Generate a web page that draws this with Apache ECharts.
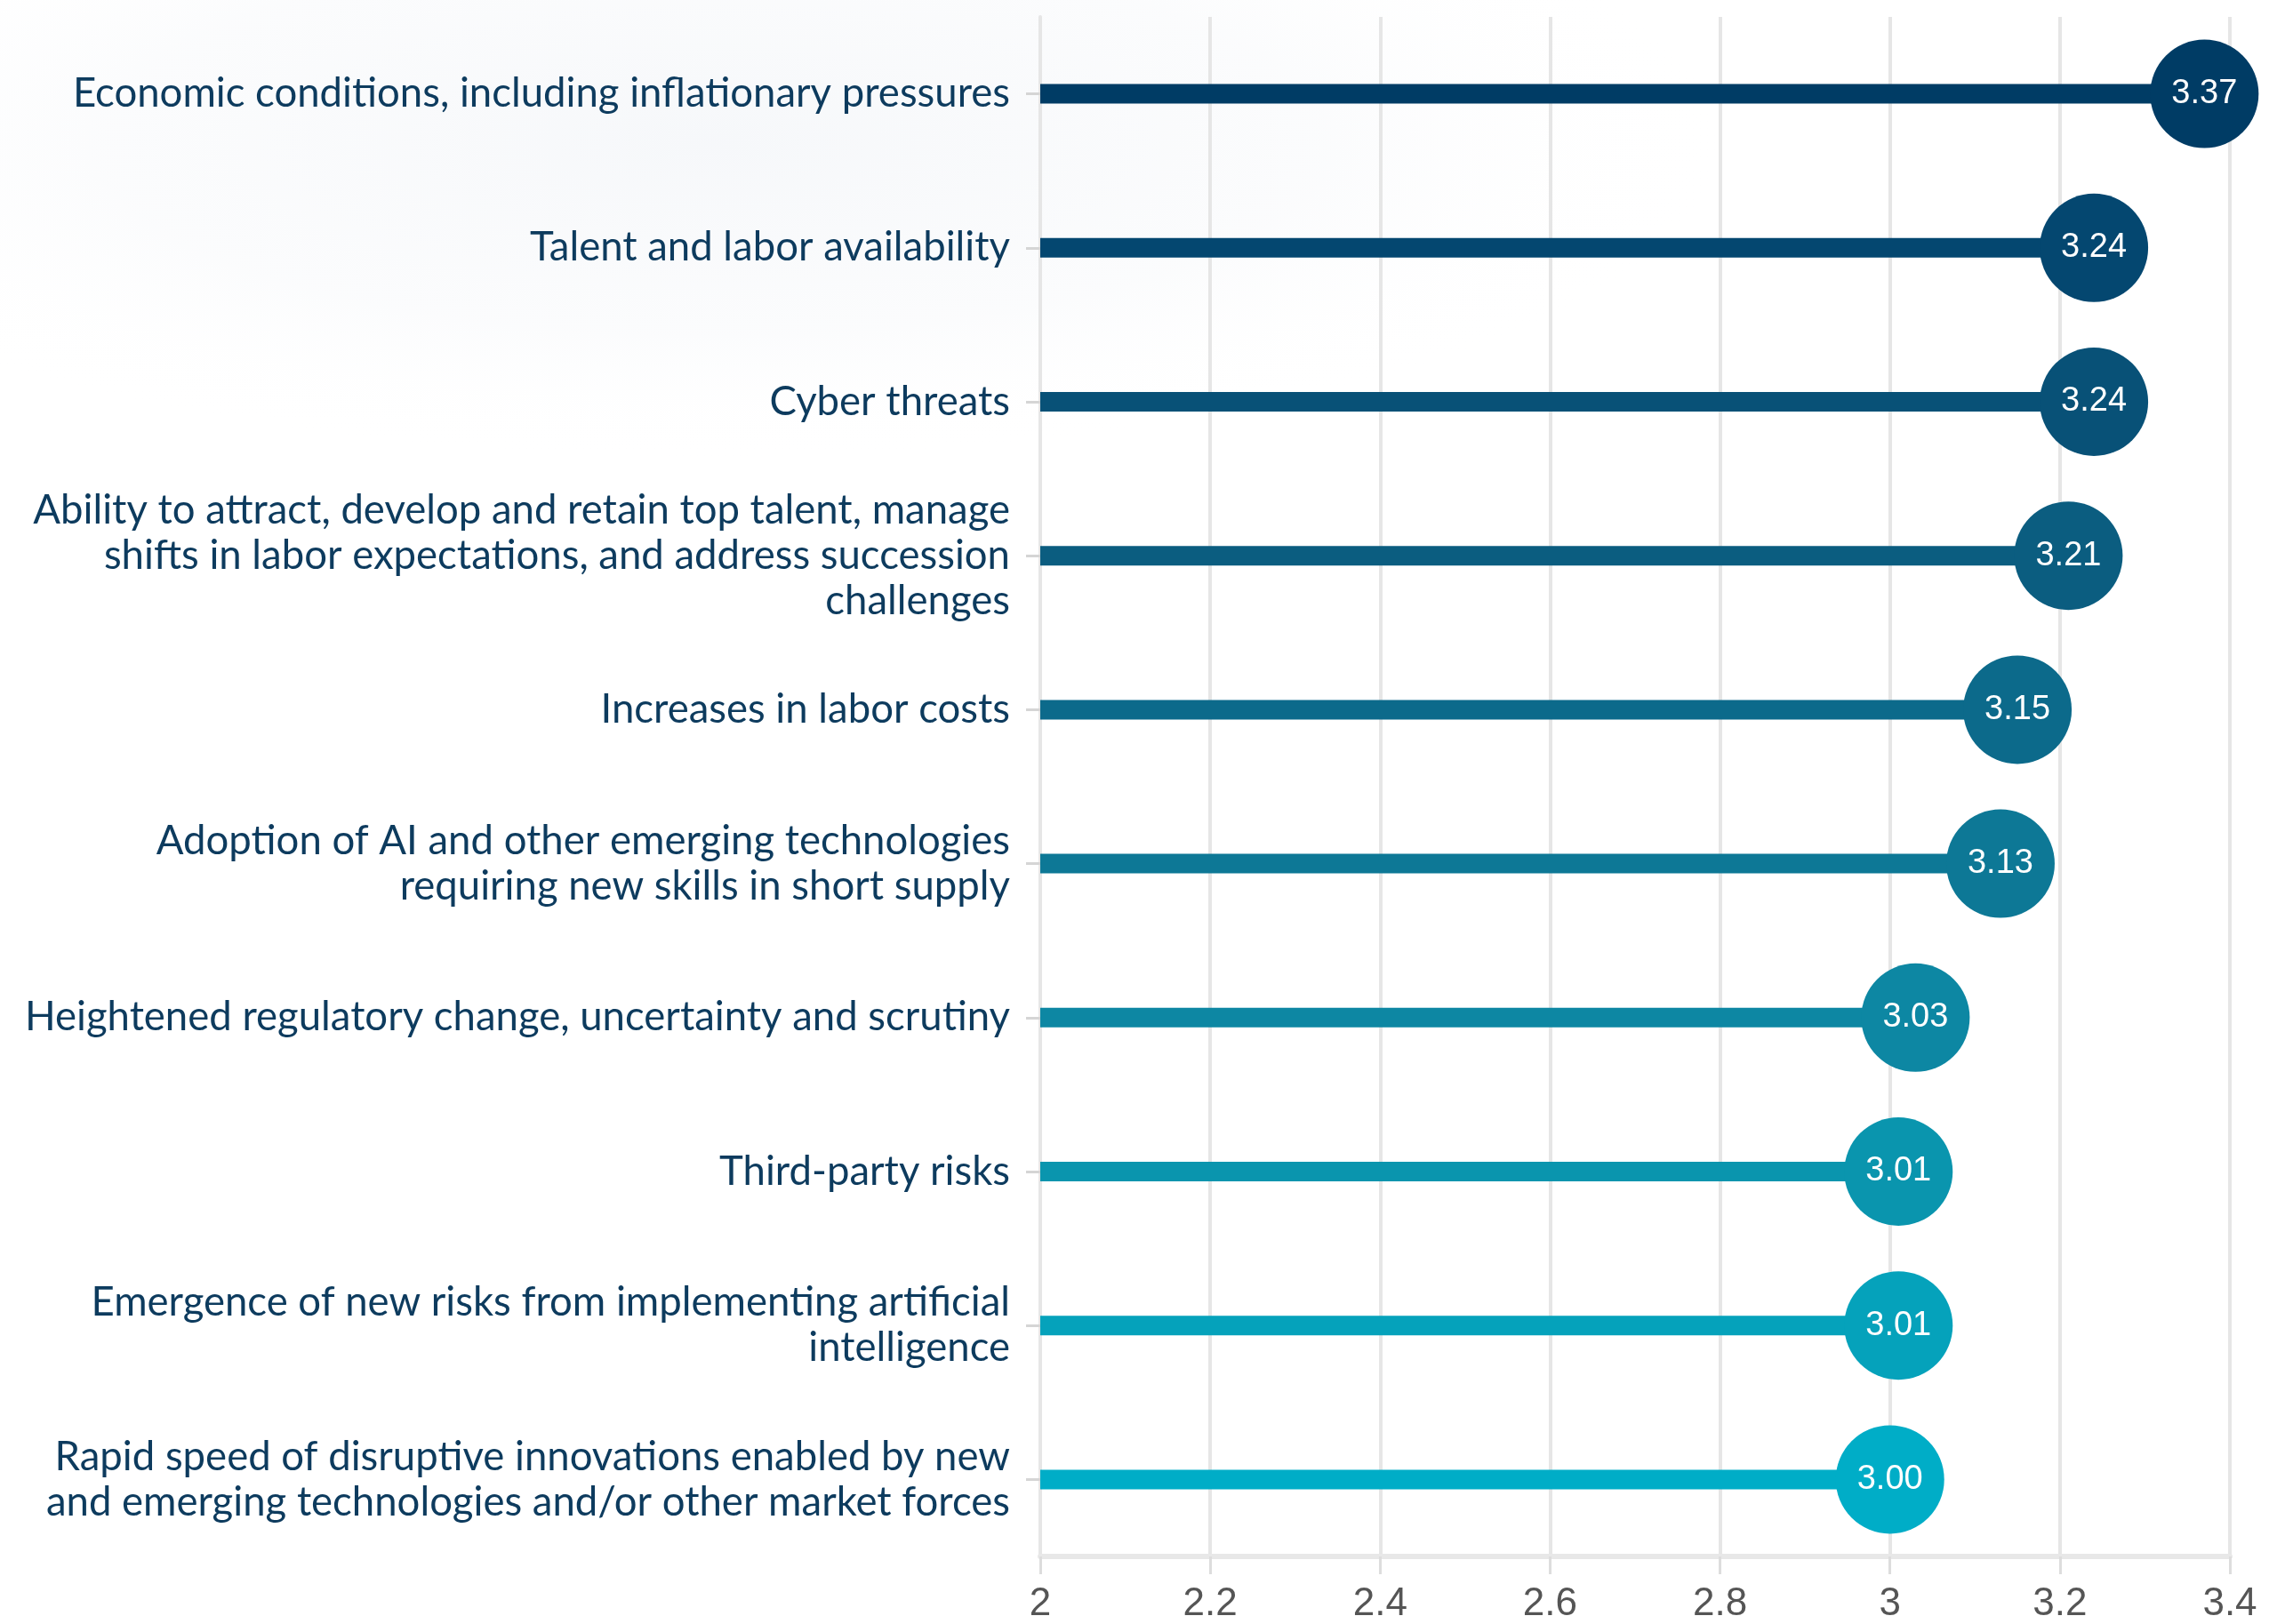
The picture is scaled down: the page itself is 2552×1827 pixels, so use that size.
<!DOCTYPE html>
<html>
<head>
<meta charset="utf-8">
<script src="https://cdn.jsdelivr.net/npm/echarts@6/dist/echarts.min.js"></script>
<style>
html,body{margin:0;padding:0;background:#ffffff;}
#chart{width:2552px;height:1827px;}
</style>
</head>
<body>
<div id="chart"></div>
<script>
const categories = [
  "Economic conditions, including inflationary pressures",
  "Talent and labor availability",
  "Cyber threats",
  "Ability to attract, develop and retain top talent, manage\nshifts in labor expectations, and address succession\nchallenges",
  "Increases in labor costs",
  "Adoption of AI and other emerging technologies\nrequiring new skills in short supply",
  "Heightened regulatory change, uncertainty and scrutiny",
  "Third-party risks",
  "Emergence of new risks from implementing artificial\nintelligence",
  "Rapid speed of disruptive innovations enabled by new\nand emerging technologies and/or other market forces"
];
const values = [3.37, 3.24, 3.24, 3.21, 3.15, 3.13, 3.03, 3.01, 3.01, 3.00];
const colors = ["#003c65", "#044770", "#085177", "#0b5d80", "#0c6a8b", "#0d7896", "#0d87a3", "#0a95ae", "#05a2bb", "#00adc7"];
const xTicks = {min: 2, max: 3.4, interval: 0.2};

const chart = echarts.init(document.getElementById('chart'), null, {renderer: 'canvas'});
chart.setOption({
  backgroundColor: '#ffffff',
  animation: false,
  graphic: [{
    type: 'circle', silent: true, z: -10,
    x: 800, y: 160, scaleX: 3.2, scaleY: 1,
    shape: {cx: 0, cy: 0, r: 360},
    style: {fill: new echarts.graphic.RadialGradient(0.5, 0.5, 0.5, [
      {offset: 0, color: 'rgba(240,243,247,0.6)'},
      {offset: 0.6, color: 'rgba(244,246,249,0.35)'},
      {offset: 1, color: 'rgba(255,255,255,0)'}
    ])}
  }],
  grid: {left: 1170, right: 44, top: 19, bottom: 75, containLabel: false},
  xAxis: {
    type: 'value',
    min: xTicks.min, max: xTicks.max, interval: xTicks.interval,
    axisLine: {show: true, lineStyle: {color: '#e8e8e8', width: 6}},
    axisTick: {show: true, length: 20, lineStyle: {color: '#dddddd', width: 3}},
    splitLine: {show: true, lineStyle: {color: '#e6e6e6', width: 4}},
    axisLabel: {color: '#555555', fontSize: 44, fontFamily: 'Liberation Sans, Arial, sans-serif', margin: 32,
      formatter: v => String(+v.toFixed(1))}
  },
  yAxis: {
    type: 'category',
    inverse: true,
    data: categories,
    axisLine: {show: true, lineStyle: {color: '#e6e6e6', width: 4}},
    axisTick: {show: true, length: 16, alignWithLabel: true, lineStyle: {color: '#d5d5d5', width: 3}},
    axisLabel: {color: '#0d3b5e', fontSize: 45.5, fontFamily: 'Lato, sans-serif', lineHeight: 51, margin: 34, align: 'right',
      formatter: v => v.split('\n').length > 2 ? '{up|' + v.split('\n').join('}\n{up|') + '}' : v,
      rich: {up: {color: '#0d3b5e', fontSize: 45.5, fontFamily: 'Lato, sans-serif', lineHeight: 51, align: 'right', padding: [0, 0, 0, 0]}}
    }
  },
  series: [
    {
      type: 'bar',
      barWidth: 22,
      data: values.map((v, i) => ({value: v, itemStyle: {color: colors[i]}})),
      z: 2
    },
    {
      type: 'scatter',
      symbol: 'circle',
      symbolSize: 122,
      data: values.map((v, i) => ({value: [v, categories[i]], itemStyle: {color: colors[i], opacity: 1}})),
      label: {
        show: true, position: 'inside', color: '#ffffff', fontSize: 38,
        fontFamily: 'Liberation Sans, Arial, sans-serif',
        formatter: p => p.value[0].toFixed(2)
      },
      z: 3
    }
  ]
});
</script>
</body>
</html>
